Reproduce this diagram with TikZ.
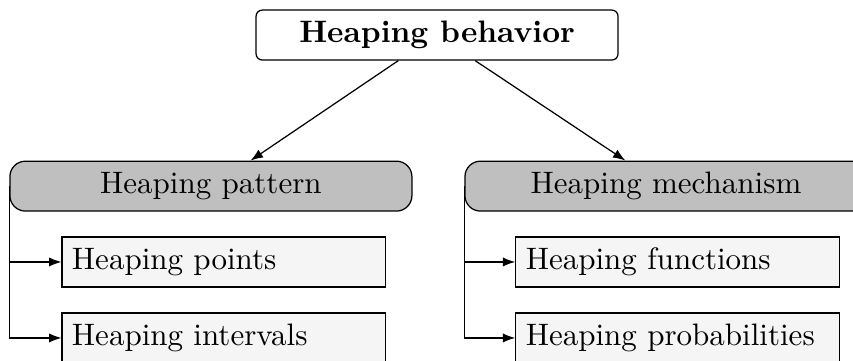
\documentclass[tikz,border=0pt]{standalone}
\usetikzlibrary{calc,arrows.meta}
\begin{document}
\begin{tikzpicture}[
  x=1pt,y=1pt,
  topbox/.style={draw, rounded corners=2pt, minimum width=116.7pt, minimum height=16.1pt, inner sep=0pt, font=\bfseries},
  catbox/.style={draw, fill=gray!50, rounded corners=5pt, minimum width=129.6pt, minimum height=16.1pt, inner sep=0pt},
  leafbox/.style={draw, fill=gray!8, minimum width=104.4pt, minimum height=16.1pt, inner sep=3.2pt, align=left, text width=98pt},
  conn/.style={-{Latex[length=4pt,width=3pt]}, line width=0.4pt},
]
\useasboundingbox (0,0) rectangle (275,-116.06);
\node[topbox] (top) at (140.9,-11.3) {Heaping behavior};
\node[catbox] (pat) at (68.0,-60.0) {Heaping pattern};
\node[catbox] (mec) at (214.7,-60.0) {Heaping mechanism};
\node[leafbox] (pts) at (72.2,-84.45) {Heaping points};
\node[leafbox] (int) at (72.2,-108.95) {Heaping intervals};
\node[leafbox] (fun) at (218.5,-84.45) {Heaping functions};
\node[leafbox] (prob) at (218.5,-108.95) {Heaping probabilities};
\draw[conn] ($(top.south)+(-12.5,0)$) -- ($(pat.north)+(12.8,0)$);
\draw[conn] ($(top.south)+(12.3,0)$) -- ($(mec.north)+(-13.1,0)$);
\draw[conn] (pat.west) |- (pts.west);
\draw[conn] (pat.west) |- (int.west);
\draw[conn] (mec.west) |- (fun.west);
\draw[conn] (mec.west) |- (prob.west);
\end{tikzpicture}
\end{document}
